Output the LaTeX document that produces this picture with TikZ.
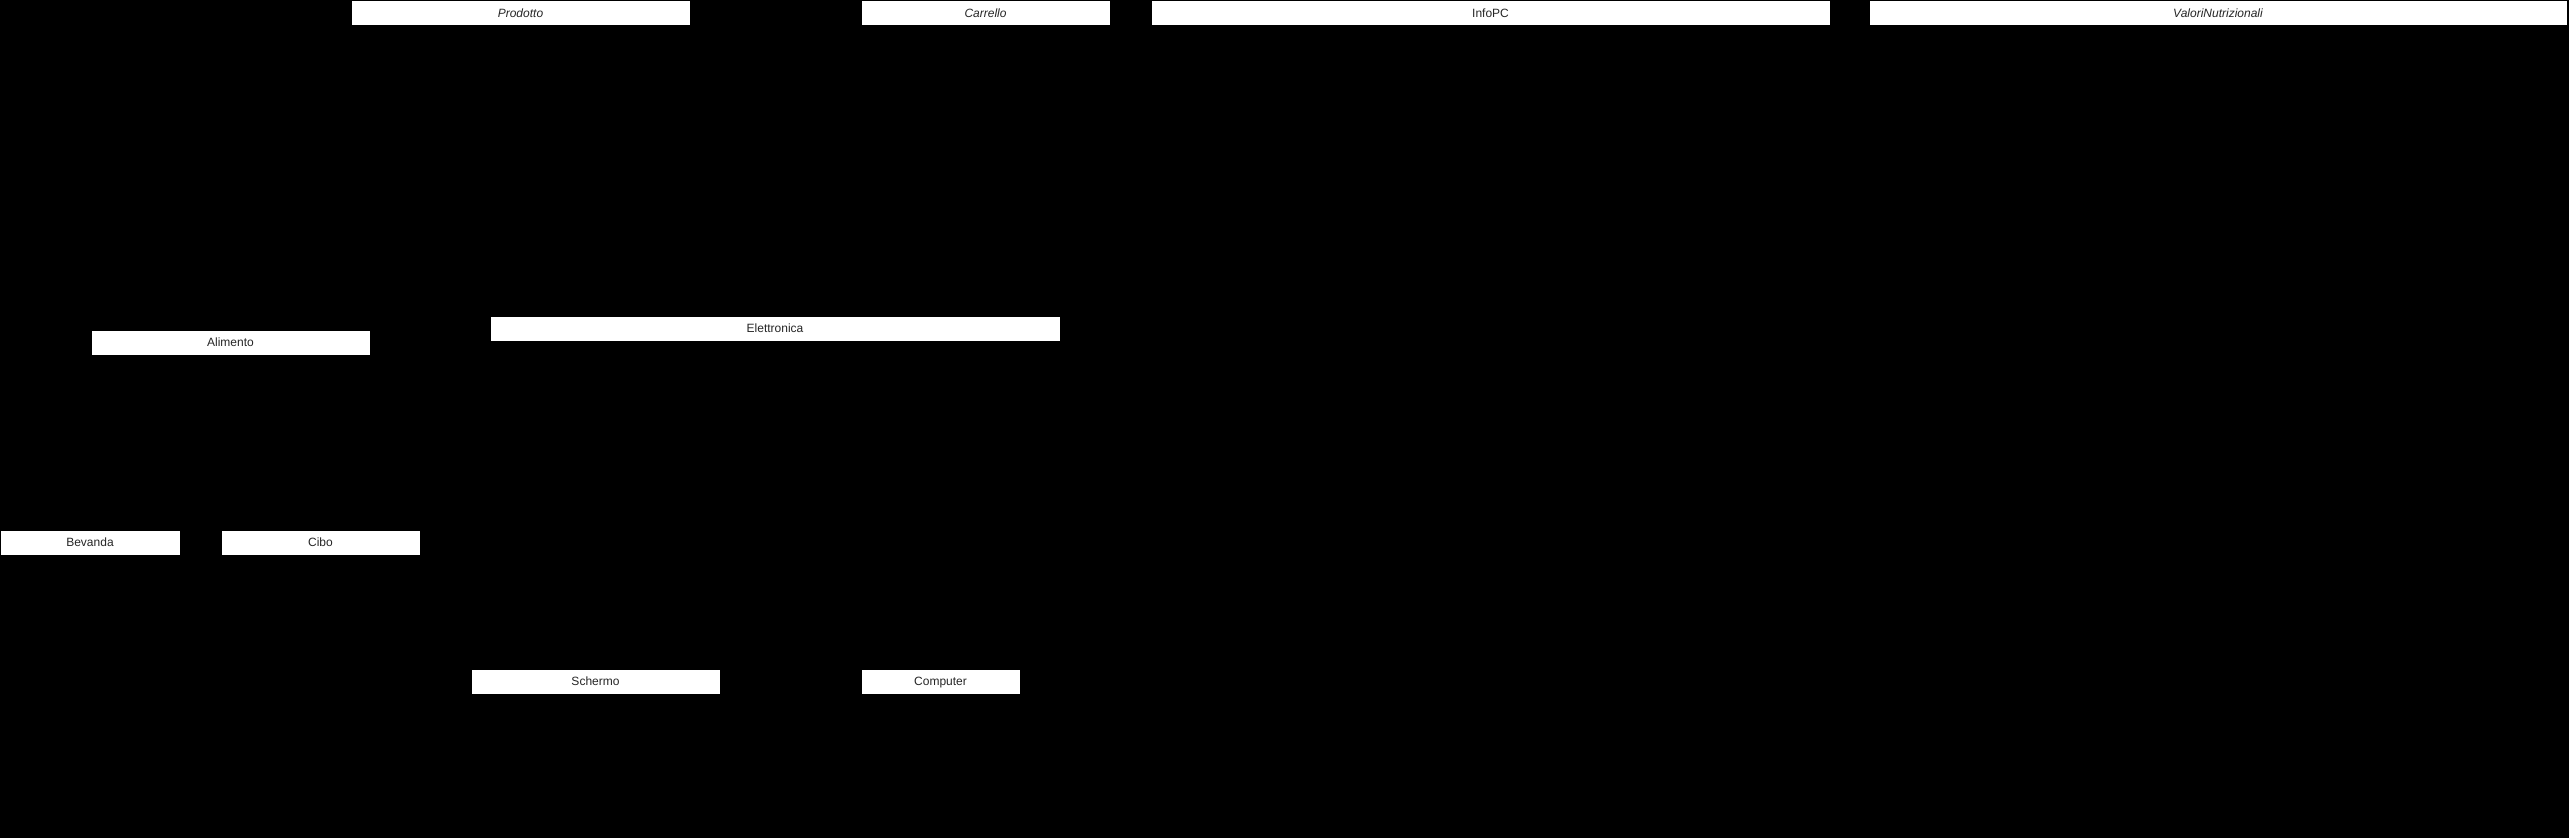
\documentclass[tikz,border=0pt]{standalone}
\usepackage{fontspec}
\setmainfont{Liberation Sans}
\tikzset{
  classbox/.style={draw=black, fill=white, line width=0.75pt, rectangle, anchor=north west,
    inner sep=0pt, outer sep=0pt, minimum height=18.75pt, text height=6.6pt, text depth=0pt,
    text=black!85, font=\fontsize{9}{10}\selectfont},
}
\begin{document}
\begin{tikzpicture}[x=0.75pt, y=-0.75pt]
            \useasboundingbox (0,0) rectangle (2569,838);
            \fill[black] (0,0) rectangle (2569,838);
            % top row
            \node[classbox, minimum width=254.25pt] (prodotto) at (351,1) {\itshape Prodotto};
            \node[classbox, minimum width=186.75pt] (carrello) at (861,1) {\itshape Carrello};
            \node[classbox, minimum width=509.25pt] (infopc) at (1151,1) {InfoPC};
            \node[classbox, minimum width=523.5pt] (valori) at (1869,1) {\itshape ValoriNutrizionali};
            % middle row
            \node[classbox, minimum width=209.25pt] (alimento) at (91,330) {Alimento};
            \node[classbox, minimum width=427.5pt] (elettronica) at (490,316) {Elettronica};
            % bottom rows
            \node[classbox, minimum width=135pt] (bevanda) at (0,530) {Bevanda};
            \node[classbox, minimum width=149.25pt] (cibo) at (221,530) {Cibo};
            \node[classbox, minimum width=186.75pt] (schermo) at (471,669) {Schermo};
            \node[classbox, minimum width=119.25pt] (computer) at (861,669) {Computer};
\end{tikzpicture}
\end{document}
